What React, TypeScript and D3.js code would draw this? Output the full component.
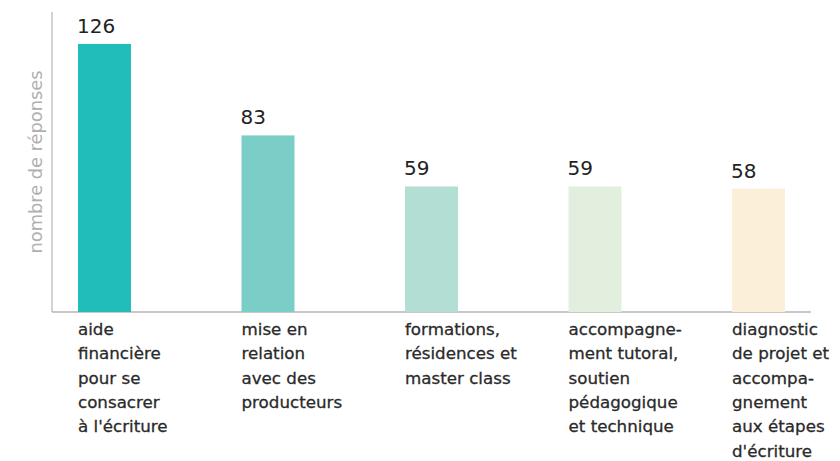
import React from "react";
import * as d3 from "d3";

const categories = ["aide", "mise", "formations", "accompagnement", "diagnostic"];
const values = [126, 83, 59, 59, 58];
const labelLines = [
  ["aide", "financière", "pour se", "consacrer", "à l'écriture"],
  ["mise en", "relation", "avec des", "producteurs"],
  ["formations,", "résidences et", "master class"],
  ["accompagne-", "ment tutoral,", "soutien", "pédagogique", "et technique"],
  ["diagnostic", "de projet et", "accompa-", "gnement", "aux étapes", "d'écriture"],
];
const colors = ["#20bdbb", "#7bcdc8", "#b2ded4", "#e2efdf", "#fcefd9"];
const yTitle = "nombre de réponses";

export default function App() {
  const W = 840, H = 461;
  const x = d3.scaleBand<string>().domain(categories).range([52, 811]).paddingInner(0.676).paddingOuter(0.159);
  const y = d3.scaleLinear().domain([0, 141]).range([312, 12]);
  return (
    <svg width={W} height={H} style={{ position: "absolute", left: 0, top: 0, background: "#fff" }}>
      <line x1={52} x2={52} y1={y(141)} y2={y(0)} stroke="#c4c4c4" strokeWidth={1.5} />
      <line x1={52} x2={811} y1={y(0)} y2={y(0)} stroke="#b4b4b4" strokeWidth={1.5} />
      <text transform={`translate(42,162) rotate(-90)`} textAnchor="middle" fontFamily="DejaVu Sans" fontSize={17.8} fill="#b0b0b0">{yTitle}</text>
      {categories.map((c, i) => (
        <g key={c}>
          <rect x={x(c)} y={y(values[i])} width={x.bandwidth()} height={y(0) - y(values[i])} fill={colors[i]} />
          <text x={x(c)! - 1} y={y(values[i]) - 11} fontFamily="DejaVu Sans" fontSize={20} fill="#222">{values[i]}</text>
          <text fontFamily="DejaVu Sans" fontSize={16.7} fill="#2a2a2a" stroke="#2a2a2a" strokeWidth={0.3}>
            {labelLines[i].map((l, j) => (
              <tspan key={j} x={x(c)} y={335 + j * 24.3}>{l}</tspan>
            ))}
          </text>
        </g>
      ))}
    </svg>
  );
}
